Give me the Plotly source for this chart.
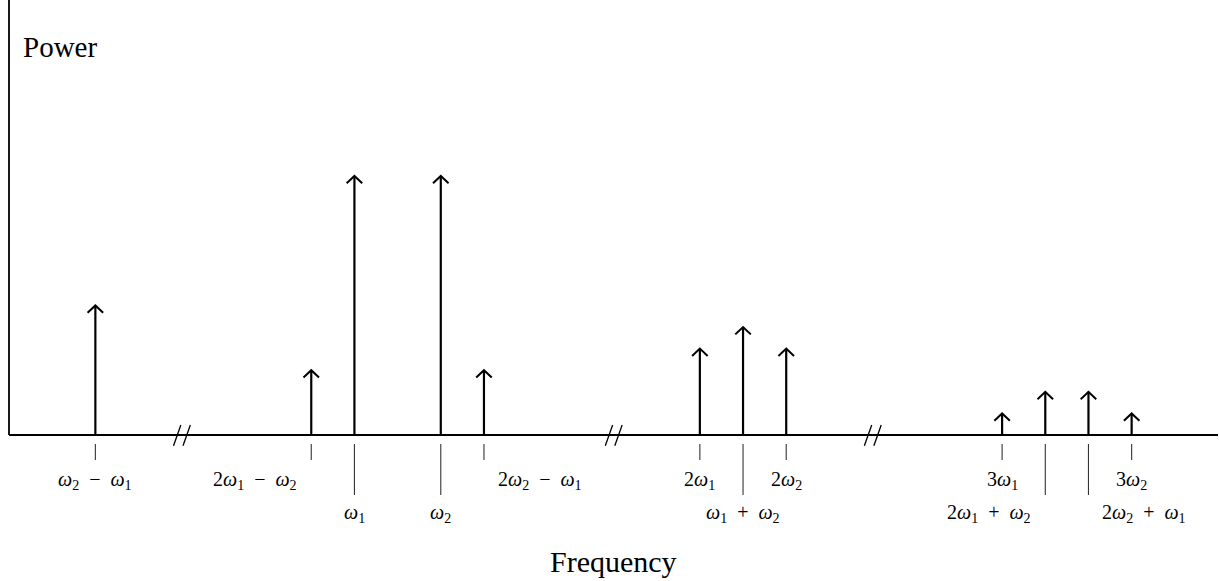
import plotly.graph_objects as go

# ---- data ----
freq = [2, 7, 8, 10, 11, 16, 17, 18, 23, 24, 25, 26]
power = [3, 1.5, 6, 6, 1.5, 2, 2.5, 2, 0.5, 1, 1, 0.5]
labels = [
    "<i>ω</i><sub>2</sub>  −  <i>ω</i><sub>1</sub>",
    "2<i>ω</i><sub>1</sub>  −  <i>ω</i><sub>2</sub>",
    "<i>ω</i><sub>1</sub>",
    "<i>ω</i><sub>2</sub>",
    "2<i>ω</i><sub>2</sub>  −  <i>ω</i><sub>1</sub>",
    "2<i>ω</i><sub>1</sub>",
    "<i>ω</i><sub>1</sub>  +  <i>ω</i><sub>2</sub>",
    "2<i>ω</i><sub>2</sub>",
    "3<i>ω</i><sub>1</sub>",
    "2<i>ω</i><sub>1</sub>  +  <i>ω</i><sub>2</sub>",
    "2<i>ω</i><sub>2</sub>  +  <i>ω</i><sub>1</sub>",
    "3<i>ω</i><sub>2</sub>",
]
long_tick = [False, False, True, True, False, False, True, False, False, True, True, False]
# label placement: 'c' centered, 'l' left of tick, 'r' right of tick
label_side = ["c", "l", "c", "c", "r", "c", "c", "c", "c", "l", "r", "c"]
breaks = [4, 14, 20]
x_max = 28
y_label = "Power"
x_label = "Frequency"

# ---- geometry (pixels -> units) ----
W, H = 1219, 581
k = (W - 10) / x_max          # px per unit
x0 = -9 / k
x1 = x0 + W / k
y1 = 435 / k
y0 = y1 - H / k

def py(p):  # pixel row -> data y
    return y1 - p / k

fig = go.Figure()

# axes lines
fig.add_trace(go.Scatter(x=[0, x_max], y=[0, 0], mode="lines",
                         line=dict(color="black", width=1.8), hoverinfo="skip", cliponaxis=False))
fig.add_trace(go.Scatter(x=[0, 0], y=[0, y1 + 1], mode="lines",
                         line=dict(color="black", width=1.8), hoverinfo="skip", cliponaxis=False))

# ticks below axis
tx, ty = [], []
for f, lg in zip(freq, long_tick):
    tx += [f, f, None]
    ty += [py(444), py(495 if lg else 460), None]
fig.add_trace(go.Scatter(x=tx, y=ty, mode="lines",
                         line=dict(color="#333333", width=1.1), hoverinfo="skip"))

# break marks
bx, by = [], []
for c in breaks:
    bx += [c - 0.19, c - 0.02, None, c + 0.03, c + 0.20, None]
    by += [-0.25, 0.23, None, -0.25, 0.23, None]
fig.add_trace(go.Scatter(x=bx, y=by, mode="lines",
                         line=dict(color="black", width=1.3), hoverinfo="skip"))

# spectral lines (stems) with open arrow heads
hw, hh = 0.18, 0.17
sx, sy, hx, hy = [], [], [], []
for f, p in zip(freq, power):
    sx += [f, f, None]
    sy += [0, p, None]
    hx += [f - hw, f, f + hw, None]
    hy += [p - hh, p, p - hh, None]
fig.add_trace(go.Scatter(x=sx, y=sy, mode="lines",
                         line=dict(color="black", width=2.2), hoverinfo="skip"))
fig.add_trace(go.Scatter(x=hx, y=hy, mode="lines",
                         line=dict(color="black", width=2), hoverinfo="skip"))

annotations = []
# tick labels
for f, lab, lg, side in zip(freq, labels, long_tick, label_side):
    row = py(513) if lg else py(480)
    if side == "c":
        annotations.append(dict(x=f, y=row, text=lab, showarrow=False, xanchor="center",
                                yanchor="middle", xref="x", yref="y"))
    elif side == "l":
        annotations.append(dict(x=f, y=row, text=lab, showarrow=False, xanchor="right",
                                xshift=-12, yanchor="middle", xref="x", yref="y"))
    else:
        annotations.append(dict(x=f, y=row, text=lab, showarrow=False, xanchor="left",
                                xshift=12, yanchor="middle", xref="x", yref="y"))

annotations.append(dict(x=21 / W, y=1 - 47 / H, xref="paper", yref="paper", text=y_label,
                        showarrow=False, xanchor="left", yanchor="middle",
                        font=dict(size=29)))
annotations.append(dict(x=613 / W, y=1 - 561 / H, xref="paper", yref="paper", text=x_label,
                        showarrow=False, xanchor="center", yanchor="middle",
                        font=dict(size=30)))

fig.update_layout(
    width=W, height=H,
    margin=dict(l=0, r=0, t=0, b=0),
    paper_bgcolor="white", plot_bgcolor="white",
    showlegend=False,
    font=dict(family="Liberation Serif, DejaVu Serif, serif", size=20, color="black"),
    xaxis=dict(range=[x0, x1], visible=False, fixedrange=True),
    yaxis=dict(range=[y0, y1], visible=False, fixedrange=True),
    annotations=annotations,
)

fig.write_html("out.html")
